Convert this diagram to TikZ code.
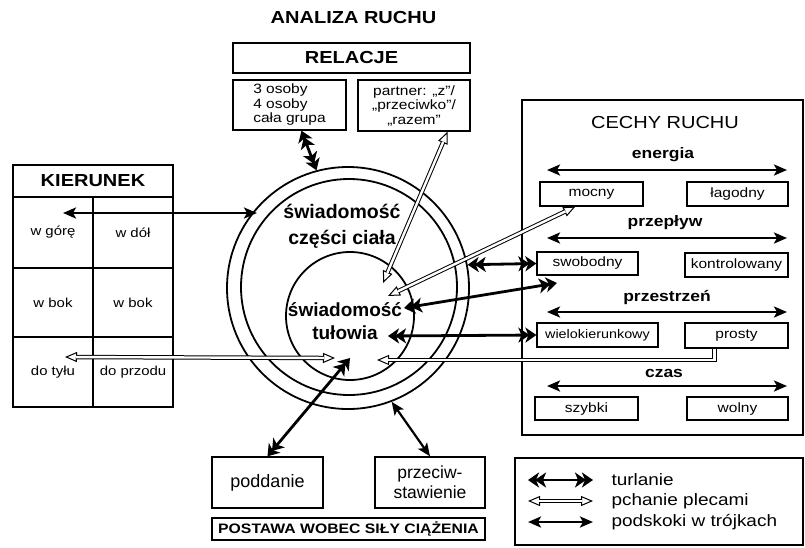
\documentclass[tikz,border=0pt]{standalone}
\usepackage{fontspec}
\setmainfont{Liberation Sans}[FakeStretch=1.15]
\newfontfamily\plainsans{Liberation Sans}
\usetikzlibrary{arrows.meta,calc}
\newcommand\fsz[2]{\fontsize{#1}{#2}\selectfont}
\newcommand\hollowarrow[2]{%
  \draw[line width=1pt, Hol-Hol] (#1) -- (#2);
  \draw[line width=1pt, double=white, double distance=2.4pt, shorten <=11pt, shorten >=11pt] (#1) -- (#2);}
\tikzset{
  Tur/.tip={Stealth[length=11pt,width=15pt,inset=3pt,sep=-4pt]Stealth[length=11pt,width=15pt,inset=3pt]},
  Pod/.tip={Stealth[length=13pt,width=11pt,inset=3pt]},
  Hol/.tip={Triangle[open,length=12pt,width=10pt,line width=1pt]},
  turl/.style={line width=2.8pt, Tur-Tur},
  pods/.style={line width=2.8pt, Pod-Pod},
  box/.style={draw, line width=1.4pt, inner sep=0pt, align=center},
  cell/.style={box, minimum width=80pt, font=\fsz{13}{15}},
  lbox/.style={box, line width=1.2pt, font=\fsz{13.5}{15}},
  ring/.style={draw, circle, line width=1.8pt, inner sep=0pt},
  ttl/.style={font=\fsz{17.4}{20}\bfseries},
  cat/.style={font=\fsz{15.2}{17}\bfseries},
}
\begin{document}
\begin{tikzpicture}[x=1pt,y=-1pt]
\useasboundingbox (0,0) rectangle (805,547);

% title and RELACJE
\node[ttl] (title) at (353.5,18) {ANALIZA RUCHU};
\node[box, ttl, minimum width=237pt, minimum height=30pt] (relacje) at (351.5,58) {RELACJE};
\node[box, align=left, font=\fsz{13.5}{14.5}, minimum width=113pt, minimum height=50pt] (rel1) at (289.5,105) {3 osoby\\4 osoby\\cała grupa};
\node[box, font=\fsz{13.5}{14.5}, minimum width=112pt, minimum height=51pt] (rel2) at (414,105.5) {partner: „z”/\\„przeciwko”/\\„razem”};

% KIERUNEK table
\node[box, ttl, minimum width=160pt, minimum height=32pt] (kier) at (93,181) {KIERUNEK};
\node[cell, minimum height=71pt] (c11) at (53,232.5) {w górę};
\node[cell, minimum height=71pt] (c12) at (133,232.5) {w dół};
\node[cell, minimum height=69pt] (c21) at (53,302.5) {w bok};
\node[cell, minimum height=69pt] (c22) at (133,302.5) {w bok};
\node[cell, minimum height=70pt] (c31) at (53,372) {do tyłu};
\node[cell, minimum height=70pt] (c32) at (133,372) {do przodu};

% circles
\node[ring, minimum size=242pt] (outer) at (348,288) {};
\node[ring, minimum size=216pt] (mid) at (349,287) {};
\node[ring, minimum size=128pt] (inner) at (350,316) {};
\node[font=\plainsans\fsz{19.5}{26}\bfseries, align=center] (cz) at (342,226) {świadomość\\części ciała};
\node[font=\plainsans\fsz{19}{23}\bfseries, align=center] (tu) at (345,321) {świadomość\\tułowia};

% CECHY RUCHU
\node[draw, line width=1.4pt, minimum width=281pt, minimum height=335pt, inner sep=0pt] (cechy) at (662.5,267.5) {};
\node[font=\fsz{17.4}{20}] (cechyt) at (665,123) {CECHY RUCHU};
\node[cat] (energia) at (663,155) {energia};
\node[cat] (przeplyw) at (665,223) {przepływ};
\node[cat] (przestrzen) at (667,297) {przestrzeń};
\node[cat] (czas) at (664,373) {czas};
\node[lbox, minimum width=103pt, minimum height=24pt] (mocny) at (591.5,194) {mocny};
\node[lbox, minimum width=101pt, minimum height=24pt] (lagodny) at (737.5,194) {łagodny};
\node[lbox, minimum width=101pt, minimum height=23pt] (swo) at (587.5,263.5) {swobodny};
\node[lbox, minimum width=103pt, minimum height=24pt] (kontr) at (736.5,265) {kontrolowany};
\node[lbox, minimum width=121pt, minimum height=24pt, font=\fsz{12.5}{14}] (wielo) at (597.5,335) {wielokierunkowy};
\node[lbox, minimum width=103pt, minimum height=25pt] (prosty) at (736.5,335.5) {prosty};
\node[lbox, minimum width=103pt, minimum height=23pt] (szybki) at (586.5,408.5) {szybki};
\node[lbox, minimum width=101pt, minimum height=23pt] (wolny) at (737.5,408.5) {wolny};
\foreach \n/\y in {e/170, p/238, s/312, c/386} {
  \coordinate (\n L) at (547,\y);
  \coordinate (\n R) at (787,\y);
  \draw[pods] (\n L) -- (\n R);
}

% bottom boxes
\node[box, font=\plainsans\fsz{18}{20}, minimum width=111pt, minimum height=51pt] (podd) at (267.5,482.5) {poddanie};
\node[box, font=\plainsans\fsz{17.5}{20}, minimum width=110pt, minimum height=51pt] (przec) at (430,482.5) {przeciw-\\stawienie};
\node[box, font=\fsz{13.7}{16}\bfseries, minimum width=273pt, minimum height=22pt] (postawa) at (348.5,529) {POSTAWA WOBEC SIŁY CIĄŻENIA};

% legend
\node[draw, line width=1.4pt, minimum width=288pt, minimum height=87pt, inner sep=0pt] (legend) at (659,501.5) {};
\coordinate (l1a) at (528,480); \coordinate (l1b) at (593,480);
\coordinate (l2a) at (528,501); \coordinate (l2b) at (593,501);
\coordinate (l3a) at (528,522); \coordinate (l3b) at (593,522);
\draw[turl] (l1a) -- (l1b);
\hollowarrow{l2a}{l2b}
\draw[pods] (l3a) -- (l3b);
\node[anchor=west, font=\fsz{16.5}{18}] (lt1) at (608,480) {turlanie};
\node[anchor=west, font=\fsz{16.5}{18}] (lt2) at (608,501) {pchanie plecami};
\node[anchor=west, font=\fsz{16.5}{18}] (lt3) at (608,522) {podskoki w trójkach};

% connectors
\coordinate (kA) at (63,213); \coordinate (kB) at (257,213);
\draw[pods] (kA) -- (kB);
\coordinate (hA) at (65,357); \coordinate (hB) at (335,358);
\hollowarrow{hA}{hB}
\draw[turl] (rel1.-65) -- (outer.105);
\coordinate (rB) at (383,283);
\hollowarrow{rel2.-38}{rB}
\coordinate (mB) at (388,296);
\hollowarrow{mocny.-142}{mB}
\draw[turl] (outer.11) -- (swo.west);
\coordinate (dA) at (404,308); \coordinate (dB) at (557,283);
\draw[turl] (dA) -- (dB);
\coordinate (wA) at (388,336);
\draw[turl] (wA) -- (wielo.west);
\coordinate (pr) at ($(prosty.south)+(-22,0)$);
\coordinate (h5) at (377,360);
\draw[line width=1pt, -Hol] (pr) |- (h5);
\draw[line width=1pt, double=white, double distance=2.4pt, shorten >=11pt] (pr) |- (h5);
\coordinate (pA) at (350,358);
\draw[turl] (pA) -- (podd.north);
\draw[pods, line width=2.2pt] (outer.-69) -- (przec.north);
\end{tikzpicture}
\end{document}
